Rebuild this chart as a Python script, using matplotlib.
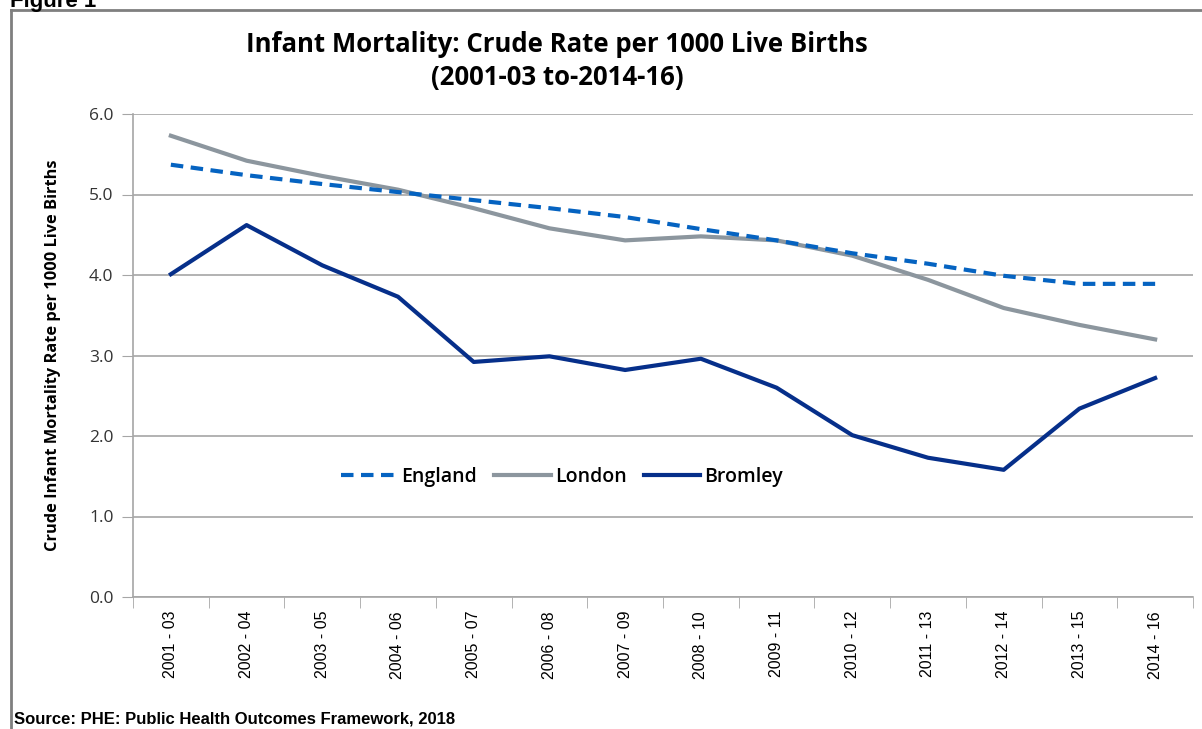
import matplotlib.pyplot as plt
from matplotlib.lines import Line2D

periods = ["2001 - 03", "2002 - 04", "2003 - 05", "2004 - 06", "2005 - 07",
           "2006 - 08", "2007 - 09", "2008 - 10", "2009 - 11", "2010 - 12",
           "2011 - 13", "2012 - 14", "2013 - 15", "2014 - 16"]
england = [5.37, 5.24, 5.13, 5.03, 4.93, 4.83, 4.72, 4.57, 4.43, 4.27, 4.14, 3.99, 3.89, 3.89]
london = [5.73, 5.42, 5.23, 5.06, 4.83, 4.58, 4.43, 4.48, 4.43, 4.24, 3.94, 3.59, 3.38, 3.20]
bromley = [4.01, 4.62, 4.12, 3.73, 2.92, 2.99, 2.82, 2.96, 2.60, 2.01, 1.73, 1.58, 2.34, 2.72]
yticks = [0, 1, 2, 3, 4, 5, 6]

fig = plt.figure(figsize=(12.02, 7.29), dpi=100)
ax = fig.add_axes([133/1202, 1 - 597/729, 1060/1202, 483/729])

x = list(range(len(periods)))
ax.plot(x, england, color="#0563c1", lw=3, ls=(0, (3, 1.8)), zorder=3)
ax.plot(x, london, color="#8c969e", lw=3, zorder=2)
ax.plot(x, bromley, color="#062f8a", lw=3, zorder=4)

ax.set_xlim(-0.5, len(periods) - 0.5)
ax.set_ylim(0, 6)
ax.set_yticks(yticks)
ax.set_yticklabels(["%.1f" % v for v in yticks], fontsize=12.5, family="Open Sans", color="#333333")
ax.yaxis.grid(True, color="#a6a6a6", lw=1.2)
ax.set_axisbelow(True)

ax.set_xticks(x)
ax.set_xticklabels(periods, rotation=90, fontsize=11.5, family="Liberation Sans")
ax.set_xticks([i - 0.5 for i in range(len(periods) + 1)], minor=True)
ax.tick_params(axis="x", which="major", length=0, pad=10)
ax.tick_params(axis="x", which="minor", length=8, color="#a6a6a6")
ax.tick_params(axis="y", length=8, color="#a6a6a6", pad=6)

for s in ["top", "right"]:
    ax.spines[s].set_visible(False)
for s in ["left", "bottom"]:
    ax.spines[s].set_color("#a6a6a6")
    ax.spines[s].set_linewidth(1.2)

ax.set_ylabel("Crude Infant Mortality Rate per 1000 Live Births", fontsize=11.8,
              family="Open Sans", fontweight="bold", labelpad=20)

handles = [Line2D([], [], color="#0563c1", lw=3, ls=(0, (3, 1.8))),
           Line2D([], [], color="#8c969e", lw=3),
           Line2D([], [], color="#062f8a", lw=3)]
leg = ax.legend(handles, ["England", "London", "Bromley"], loc="center",
                bbox_to_anchor=(562/1202, 1 - 477/729), bbox_transform=fig.transFigure,
                ncol=3, frameon=False, handlelength=2.9, handletextpad=0.2, columnspacing=0.9,
                prop={"family": "Open Sans", "size": 14, "weight": "semibold"})

fig.text(557/1202, 1 - 45/729, "Infant Mortality: Crude Rate per 1000 Live Births",
         ha="center", va="center", fontsize=18.5, family="Open Sans", fontweight="bold")
fig.text(557/1202, 1 - 78/729, "(2001-03 to-2014-16)",
         ha="center", va="center", fontsize=18.5, family="Open Sans", fontweight="bold")

fig.text(14/1202, 1 - 719/729, "Source: PHE: Public Health Outcomes Framework, 2018",
         ha="left", va="center", fontsize=12, family="Liberation Sans", fontweight="bold")
fig.text(10/1202, 1 - 1/729, "Figure 1", ha="left", va="center", fontsize=16,
         family="Liberation Sans", fontweight="bold")

fig.add_artist(Line2D([11/1202, 11/1202], [0, 1 - 10/729], color="#7f7f7f", lw=2))
fig.add_artist(Line2D([11/1202, 1], [1 - 10/729, 1 - 10/729], color="#7f7f7f", lw=2))

fig.savefig("out.png", dpi=100)
